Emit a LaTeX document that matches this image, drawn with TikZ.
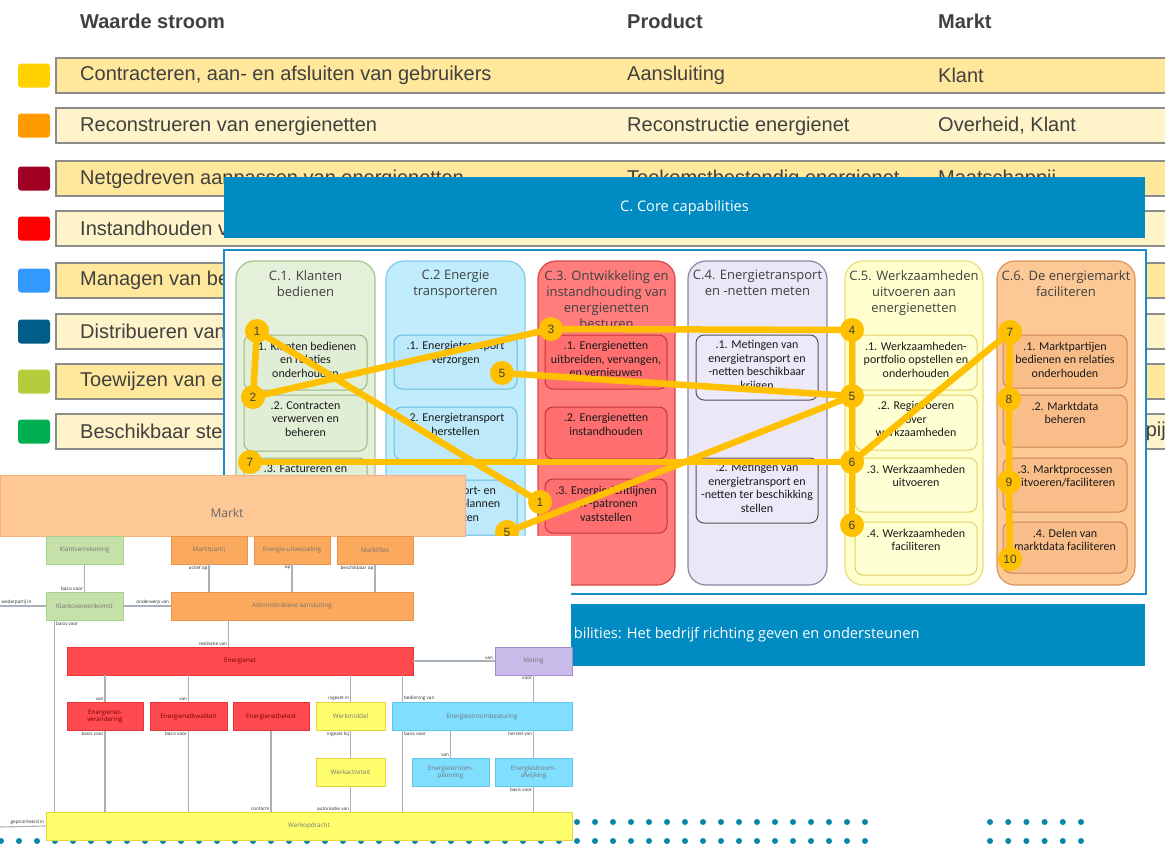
\documentclass[tikz,border=0pt]{standalone}
\usepackage{fontspec}
\setmainfont{Liberation Sans}
\newfontfamily\slidefont{Open Sans}
\newfontfamily\vakfont{Carlito}
\usetikzlibrary{calc}

% kleuren tabel
\definecolor{rijdonker}{HTML}{FFE89C}
\definecolor{rijlicht}{HTML}{FFF3C9}
\definecolor{tabeltekst}{HTML}{404040}
\definecolor{vsgeel}{HTML}{FFD200}
\definecolor{vsoranje}{HTML}{FF9A00}
\definecolor{vsbordeaux}{HTML}{A00024}
\definecolor{vsrood}{HTML}{FF0000}
\definecolor{vsblauw}{HTML}{3399FF}
\definecolor{vsdonkerblauw}{HTML}{005C88}
\definecolor{vslime}{HTML}{B4CD3C}
\definecolor{vsgroen}{HTML}{00B050}
% kleuren core capabilities
\definecolor{kernblauw}{HTML}{008BC2}
\definecolor{kernrand}{HTML}{1A8DC6}
\definecolor{routegeel}{HTML}{FFC000}
\definecolor{stipblauw}{HTML}{0A87A8}
\definecolor{k1vlak}{HTML}{E4F0DA}\definecolor{k1rand}{HTML}{A6C38C}
\definecolor{d1vlak}{HTML}{E1EED6}\definecolor{d1rand}{HTML}{98B67E}
\definecolor{k2vlak}{HTML}{C0ECFB}\definecolor{k2rand}{HTML}{7ECDEA}
\definecolor{d2vlak}{HTML}{BDE9FA}\definecolor{d2rand}{HTML}{66BEE0}
\definecolor{k3vlak}{HTML}{FF7D7D}\definecolor{k3rand}{HTML}{D84646}
\definecolor{d3vlak}{HTML}{FF6F6F}\definecolor{d3rand}{HTML}{C43535}
\definecolor{k4vlak}{HTML}{EBE7F7}\definecolor{k4rand}{HTML}{8E86A4}
\definecolor{d4vlak}{HTML}{EDE9F8}\definecolor{d4rand}{HTML}{555555}
\definecolor{k5vlak}{HTML}{FFFFCE}\definecolor{k5rand}{HTML}{EBDC7C}
\definecolor{d5vlak}{HTML}{FFFFD4}\definecolor{d5rand}{HTML}{E3D064}
\definecolor{k6vlak}{HTML}{FBC896}\definecolor{k6rand}{HTML}{D9955E}
\definecolor{d6vlak}{HTML}{F9BD89}\definecolor{d6rand}{HTML}{CF844D}
% kleuren informatiemodel
\definecolor{marktvlak}{HTML}{FDC896}
\definecolor{mgroenvlak}{HTML}{C6E0A9}\definecolor{mgroenrand}{HTML}{A8D18D}
\definecolor{moranjevlak}{HTML}{FBA95C}\definecolor{moranjerand}{HTML}{EB934A}
\definecolor{mroodvlak}{HTML}{FF4A4F}\definecolor{mroodrand}{HTML}{E63538}
\definecolor{mpaarsvlak}{HTML}{C8BBEA}\definecolor{mpaarsrand}{HTML}{9E8DC8}
\definecolor{mgeelvlak}{HTML}{FFFF6E}\definecolor{mgeelrand}{HTML}{E6D43E}
\definecolor{mcyaanvlak}{HTML}{80DEFF}\definecolor{mcyaanrand}{HTML}{5DC8EE}
\definecolor{verbkleur}{HTML}{A9B1BB}

\pgfdeclarelayer{route}
\pgfdeclarelayer{stippen}
\pgfdeclarelayer{voor}
\pgfsetlayers{main,route,stippen,voor}

\tikzset{
  rij/.style={draw=black!45, line width=1.5pt},
  rijtekst/.style={anchor=west, text=tabeltekst, font=\fontsize{20}{23}\selectfont, inner sep=0pt},
  kop/.style={rijtekst, font=\fontsize{20}{23}\selectfont\bfseries},
  kolom/.style={rounded corners=18pt, line width=1.2pt},
  koltitel/.style={anchor=north, align=center, text=black!75, font=\slidefont\fontsize{13}{16}\selectfont, inner sep=0pt},
  deelvak/.style={rounded corners=8pt, line width=1pt},
  deeltekst/.style={anchor=north, align=center, text=black!90, font=\vakfont\fontsize{12}{13.5}\selectfont, inner sep=0pt},
  route/.style={draw=routegeel, line width=6.5pt, line cap=round, line join=round},
  stip/.style={circle, fill=routegeel, minimum size=24pt, inner sep=0pt, text=black!75, font=\fontsize{12}{12}\selectfont},
  blok/.style={minimum height=28pt, inner sep=0pt, align=center, line width=0.8pt, text=black!55, font=\slidefont\fontsize{6.3}{7.5}\selectfont},
  groenblok/.style={blok, fill=mgroenvlak, draw=mgroenrand},
  oranjeblok/.style={blok, fill=moranjevlak, draw=moranjerand},
  roodblok/.style={blok, fill=mroodvlak, draw=mroodrand, text=red!45!black},
  paarsblok/.style={blok, fill=mpaarsvlak, draw=mpaarsrand},
  geelblok/.style={blok, fill=mgeelvlak, draw=mgeelrand},
  cyaanblok/.style={blok, fill=mcyaanvlak, draw=mcyaanrand},
  verb/.style={draw=verbkleur, line width=1.1pt},
  lbl/.style={font=\slidefont\fontsize{4.6}{5}\selectfont, text=black!85, inner sep=1pt},
}

\begin{document}
\begin{tikzpicture}[x=1pt,y=-1pt]
\useasboundingbox (0,0) rectangle (1165,846);
\fill[white] (0,0) rectangle (1165,846);

% waardestromen tabel
\node[kop] (kopstroom) at (80,21) {Waarde stroom};
\node[kop] (kopproduct) at (627,21) {Product};
\node[kop] (kopmarkt) at (938,21) {Markt};
\foreach \y/\kleur/\vlak in {58/vsgeel/rijdonker, 108/vsoranje/rijlicht, 161/vsbordeaux/rijdonker, 211/vsrood/rijlicht, 263/vsblauw/rijdonker, 314/vsdonkerblauw/rijlicht, 364/vslime/rijdonker, 414/vsgroen/rijlicht} {
  \draw[rij, fill=\vlak] (56,\y) rectangle (1180,\y+35);
  \fill[\kleur, rounded corners=3pt] (18,\y+5.5) rectangle (50,\y+29.5);
}
\node[rijtekst] (stroom1) at (80,75) {Contracteren, aan- en afsluiten van gebruikers};
\node[rijtekst] (product1) at (627,75) {Aansluiting};
\node[rijtekst] (markt1) at (938,75) {Klant};
\node[rijtekst] (stroom2) at (80,126) {Reconstrueren van energienetten};
\node[rijtekst] (product2) at (627,126) {Reconstructie energienet};
\node[rijtekst] (markt2) at (938,126) {Overheid, Klant};
\node[rijtekst] (stroom3) at (80,179) {Netgedreven aanpassen van energienetten};
\node[rijtekst] (product3) at (627,179) {Toekomstbestendig energienet};
\node[rijtekst] (markt3) at (938,179) {Maatschappij};
\node[rijtekst] (stroom4) at (80,228.5) {Instandhouden v};
\node[rijtekst] (stroom5) at (80,280.5) {Managen van be};
\node[rijtekst] (stroom6) at (80,331.5) {Distribueren van};
\node[rijtekst] (stroom7) at (80,381.5) {Toewijzen van e};
\node[rijtekst] (stroom8) at (80,431.5) {Beschikbaar ste};
\node[rijtekst, anchor=east] (markt8) at (1166,431.5) {pij};

% core capabilities
\fill[kernblauw] (224,177) rectangle (1145,238);
\node[text=white, font=\slidefont\fontsize{14.6}{17}\selectfont] (kerntitel) at (684.5,208) {C. Core capabilities};
\draw[kernrand, line width=2pt, fill=white] (224,250) rectangle (1146,594);
\fill[kernblauw] (224,604) rectangle (1145,666);
\node[anchor=east, text=white, font=\slidefont\fontsize{14.6}{17}\selectfont] (steuntitel) at (923,635) {bilities: Het bedrijf richting geven en ondersteunen};
\foreach \x in {0,...,48} \fill[stipblauw] (1+18*\x,822) circle (3) (1+18*\x,841) circle (3);
\foreach \x in {0,...,5} \fill[stipblauw] (990+18.2*\x,822) circle (3) (990+18.2*\x,841) circle (3);

% kolommen
\draw[kolom, fill=k1vlak, draw=k1rand] (236,261) rectangle (375,585);
\draw[kolom, fill=k2vlak, draw=k2rand] (386,261) rectangle (525,585);
\draw[kolom, fill=k3vlak, draw=k3rand] (538,261) rectangle (675,585);
\draw[kolom, fill=k4vlak, draw=k4rand] (688,261) rectangle (827,585);
\draw[kolom, fill=k5vlak, draw=k5rand] (845,261) rectangle (983,585);
\draw[kolom, fill=k6vlak, draw=k6rand] (997,261) rectangle (1135,585);
\node[koltitel] (c1) at (305.5,270) {C.1. Klanten\\bedienen};
\node[koltitel] (c2) at (455.5,270) {C.2 Energie\\transporteren};
\node[koltitel] (c3) at (606.5,270) {C.3. Ontwikkeling en\\instandhouding van\\energienetten\\besturen};
\node[koltitel] (c4) at (757.5,270) {C.4. Energietransport\\en -netten meten};
\node[koltitel] (c5) at (914,270) {C.5. Werkzaamheden\\uitvoeren aan\\energienetten};
\node[koltitel] (c6) at (1066,270) {C.6. De energiemarkt\\faciliteren};

\foreach \ya/\yb/\tekst [count=\i] in {335/390/{.1. Klanten bedienen\\en relaties\\onderhouden}, 395/451/{.2. Contracten\\verwerven en\\beheren}, 458/513/{.3. Factureren en}} {
  \draw[deelvak, fill=d1vlak, draw=d1rand] (244,\ya) rectangle (367,\yb);
  \node[deeltekst] (c1d\i) at (305.5,\ya+6.5) {\tekst};
}
\foreach \ya/\yb/\tekst [count=\i] in {335/389/{.1. Energietransport\\verzorgen}, 407/460/{.2. Energietransport\\herstellen}, 480/535/{.3. Transport- en\\capaciteit plannen\\toewijzen}} {
  \draw[deelvak, fill=d2vlak, draw=d2rand] (394,\ya) rectangle (517,\yb);
  \node[deeltekst] (c2d\i) at (455.5,\ya+6.5) {\tekst};
}
\foreach \ya/\yb/\tekst [count=\i] in {335/389/{.1. Energienetten\\uitbreiden, vervangen,\\en vernieuwen}, 407/459/{.2. Energienetten\\instandhouden}, 479/533/{.3. Energierichtlijnen\\en -patronen\\vaststellen}} {
  \draw[deelvak, fill=d3vlak, draw=d3rand] (545,\ya) rectangle (667,\yb);
  \node[deeltekst] (c3d\i) at (606,\ya+6.5) {\tekst};
}
\foreach \ya/\yb/\tekst [count=\i] in {335/400/{.1. Metingen van\\energietransport en\\-netten beschikbaar\\krijgen}, 458/523/{.2. Metingen van\\energietransport en\\-netten ter beschikking\\stellen}} {
  \draw[deelvak, fill=d4vlak, draw=d4rand] (696,\ya) rectangle (818,\yb);
  \node[deeltekst] (c4d\i) at (757,\ya+5) {\tekst};
}
\foreach \ya/\yb/\tekst [count=\i] in {335/390/{.1. Werkzaamheden-\\portfolio opstellen en\\onderhouden}, 395/450/{.2. Regievoeren\\over\\werkzaamheden}, 458/512/{.3. Werkzaamheden\\uitvoeren}, 522/575/{.4. Werkzaamheden\\faciliteren}} {
  \draw[deelvak, fill=d5vlak, draw=d5rand] (855,\ya) rectangle (977,\yb);
  \node[deeltekst] (c5d\i) at (916,\ya+6.5) {\tekst};
}
\foreach \ya/\yb/\tekst [count=\i] in {335/388/{.1. Marktpartijen\\bedienen en relaties\\onderhouden}, 395/447/{.2. Marktdata\\beheren}, 458/512/{.3. Marktprocessen\\uitvoeren/faciliteren}, 522/573/{.4. Delen van\\marktdata faciliteren}} {
  \draw[deelvak, fill=d6vlak, draw=d6rand] (1003,\ya) rectangle (1127,\yb);
  \node[deeltekst] (c6d\i) at (1065,\ya+6.5) {\tekst};
}

% route door de capabilities
\begin{pgfonlayer}{stippen}
\node[stip] (r1a) at (257,331) {1};
\node[stip] (r2) at (253,397) {2};
\node[stip] (r3) at (551,329) {3};
\node[stip] (r4) at (852,330) {4};
\node[stip] (r5a) at (502,373) {5};
\node[stip] (r5b) at (852,396) {5};
\node[stip] (r6a) at (852,462) {6};
\node[stip] (r6b) at (852,525) {6};
\node[stip] (r7a) at (250,462) {7};
\node[stip] (r7b) at (1010,332) {7};
\node[stip] (r8) at (1009,399) {8};
\node[stip] (r9) at (1009,482) {9};
\node[stip] (r10) at (1010,559) {10};
\node[stip] (r1b) at (540,502) {1};
\node[stip] (r5c) at (507,532) {5};
\end{pgfonlayer}
\begin{pgfonlayer}{route}
\draw[route] (r1a) -- (r2);
\draw[route] (r2) -- (r3);
\draw[route] (r3) -- (r4);
\draw[route] (r4) -- (r5b) -- (r6a) -- (r6b);
\draw[route] (r1a) -- (r1b);
\draw[route] (r5a) -- (r5b);
\draw[route] (r5b) -- (r5c);
\draw[route] (r7a) -- (r6a);
\draw[route] (r6a) -- (r7b);
\draw[route] (r7b) -- (r8) -- (r9) -- (r10);
\end{pgfonlayer}

% informatiemodel markt
\begin{pgfonlayer}{voor}
\fill[white] (0,536) rectangle (571,838);
\draw[fill=marktvlak, draw=moranjerand!70, line width=0.8pt] (0,475) rectangle (465,536);
\node[text=black!60, font=\slidefont\fontsize{12}{14}\selectfont] (markt) at (227,513) {Markt};

\node[groenblok, minimum width=77pt] (klantverrekening) at (84.5,550) {Klantverrekening};
\node[oranjeblok, minimum width=76pt] (marktpartij) at (209,550) {Marktpartij};
\node[oranjeblok, minimum width=76pt] (uitwisseling) at (292,550) {Energie-uitwisseling};
\node[oranjeblok, minimum width=76pt] (marktflex) at (375,550) {Marktflex};
\node[groenblok, minimum width=77pt] (klantovereenkomst) at (84.5,606) {Klantovereenkomst};
\node[oranjeblok, minimum width=242pt] (aansluiting) at (292,606) {Administratieve aansluiting};
\node[roodblok, minimum width=346pt] (energienet) at (240,661) {Energienet};
\node[paarsblok, minimum width=77pt] (meting) at (533.5,661) {Meting};
\node[roodblok, minimum width=76pt] (verandering) at (105,716.5) {Energienet-\\verandering};
\node[roodblok, minimum width=77pt] (kwaliteit) at (188.5,716.5) {Energienetkwaliteit};
\node[roodblok, minimum width=76pt] (beleid) at (271,716.5) {Energienetbeleid};
\node[geelblok, minimum width=69pt] (werkmiddel) at (350.5,716.5) {Werkmiddel};
\node[cyaanblok, minimum width=180pt] (besturing) at (482,716.5) {Energiestroombesturing};
\node[geelblok, minimum width=69pt] (werkactiviteit) at (350.5,772.5) {Werkactiviteit};
\node[cyaanblok, minimum width=77pt] (planning) at (450.5,772.5) {Energiestroom-\\planning};
\node[cyaanblok, minimum width=77pt] (afwijking) at (533.5,772.5) {Energiestroom-\\afwijking};
\node[geelblok, minimum width=526pt] (werkopdracht) at (309,826) {Werkopdracht};

\draw[verb] (klantverrekening.south) -- (klantovereenkomst.north) node[lbl, anchor=south east] {basis voor};
\draw[verb] (marktpartij.south) node[lbl, anchor=north east] {actief op} -- (marktpartij.south |- aansluiting.north);
\draw[verb] (uitwisseling.south) node[lbl, anchor=north east] {op} -- (uitwisseling.south |- aansluiting.north);
\draw[verb] (marktflex.south) node[lbl, anchor=north east] {beschikbaar op} -- (marktflex.south |- aansluiting.north);
\coordinate (wederpartij) at (0,606);
\draw[verb] (wederpartij) node[lbl, anchor=south west] {wederpartij in} -- (klantovereenkomst.west);
\draw[verb] (klantovereenkomst.east) -- (aansluiting.west) node[lbl, anchor=south east] {onderwerp van};
\coordinate (kv) at ($(klantovereenkomst.south west)+(9,0)$);
\draw[verb] (kv) node[lbl, anchor=north west] {basis voor} -- (kv |- werkopdracht.north);
\coordinate (as) at ($(aansluiting.south west)+(58,0)$);
\draw[verb] (as) -- (as |- energienet.north) node[lbl, anchor=south east] {realisatie van};
\draw[verb] (energienet.east) -- (meting.west) node[lbl, anchor=south east] {van};
\draw[verb] (meting.south) node[lbl, anchor=north east] {voor} -- (meting.south |- besturing.north);
\draw[verb] (verandering.north |- energienet.south) -- (verandering.north) node[lbl, anchor=south east] {van};
\draw[verb] (kwaliteit.north |- energienet.south) -- (kwaliteit.north) node[lbl, anchor=south east] {van};
\draw[verb] (werkmiddel.north |- energienet.south) -- (werkmiddel.north) node[lbl, anchor=south east] {ingezet in};
\coordinate (bs) at ($(besturing.north west)+(11,0)$);
\draw[verb] (bs |- energienet.south) -- (bs) node[lbl, anchor=south west] {bediening van};
\draw[verb] (verandering.south) node[lbl, anchor=north east] {basis voor} -- (verandering.south |- werkopdracht.north);
\draw[verb] (kwaliteit.south) node[lbl, anchor=north east] {basis voor} -- (kwaliteit.south |- werkopdracht.north);
\draw[verb] (beleid.south) -- (beleid.south |- werkopdracht.north) node[lbl, anchor=south east] {conform};
\draw[verb] (werkmiddel.south) node[lbl, anchor=north east] {ingezet bij} -- (werkactiviteit.north);
\draw[verb] (werkactiviteit.south) -- (werkactiviteit.south |- werkopdracht.north) node[lbl, anchor=south east] {autorisatie van};
\draw[verb] (bs |- besturing.south) node[lbl, anchor=north west] {basis voor} -- (bs |- werkopdracht.north);
\draw[verb] (planning.north |- besturing.south) -- (planning.north) node[lbl, anchor=south east] {van};
\draw[verb] (afwijking.north |- besturing.south) node[lbl, anchor=north east] {herstel van} -- (afwijking.north);
\draw[verb] (afwijking.south) node[lbl, anchor=north east] {basis voor} -- (afwijking.south |- werkopdracht.north);
\coordinate (prioriteit) at (0,827);
\draw[verb] (prioriteit) -- (werkopdracht.west) node[lbl, anchor=south east] {geprioriteerd in};
\end{pgfonlayer}
\end{tikzpicture}
\end{document}
